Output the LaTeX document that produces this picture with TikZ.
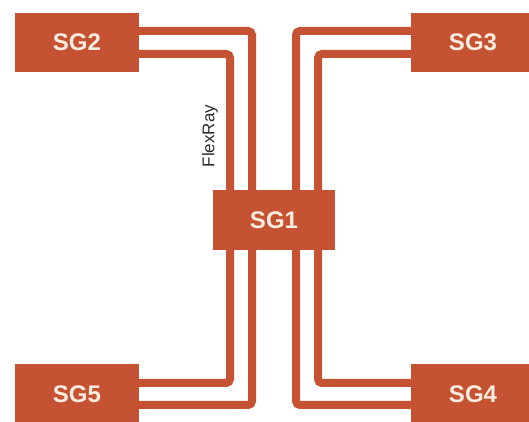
\documentclass[tikz,border=0pt]{standalone}
\usepackage{fontspec}
\setmainfont{Liberation Sans}
\usetikzlibrary{calc,backgrounds}
\definecolor{sgred}{RGB}{197,82,50}
\definecolor{sgtext}{RGB}{250,236,222}
\definecolor{lbl}{RGB}{45,45,45}
\begin{document}
\begin{tikzpicture}[x=1pt,y=1pt,
  sgbox/.style={fill=sgred,draw=none,minimum width=124pt,minimum height=59pt,inner sep=0pt,
    text=sgtext,font=\fontsize{24}{27}\selectfont\bfseries},
  wire/.style={draw=sgred,line width=8pt,rounded corners=4pt}]
\clip (0,0) rectangle (529,422);
\useasboundingbox (0,0) rectangle (529,422);
\node[sgbox] (sg2) at (77,379.5) {SG2};
\node[sgbox] (sg3) at (473,379.5) {SG3};
\node[sgbox,minimum width=122pt,minimum height=60pt] (sg1) at (274,202) {SG1};
\node[sgbox,minimum height=60pt] (sg5) at (77,28) {SG5};
\node[sgbox,minimum height=60pt] (sg4) at (473,28) {SG4};
\begin{pgfonlayer}{background}
\fill[white] (0,0) rectangle (529,422);
\draw[wire] ($(sg2.east)+(-4,11.5)$) -| ($(sg1.north)+(-22,-4)$);
\draw[wire] ($(sg2.east)+(-4,-11.5)$) -| ($(sg1.north)+(-44,-4)$);
\draw[wire] ($(sg3.west)+(4,11.5)$) -| ($(sg1.north)+(22,-4)$);
\draw[wire] ($(sg3.west)+(4,-11.5)$) -| ($(sg1.north)+(44,-4)$);
\draw[wire] ($(sg5.east)+(-4,11)$) -| ($(sg1.south)+(-44,4)$);
\draw[wire] ($(sg5.east)+(-4,-11)$) -| ($(sg1.south)+(-22,4)$);
\draw[wire] ($(sg4.west)+(4,11)$) -| ($(sg1.south)+(44,4)$);
\draw[wire] ($(sg4.west)+(4,-11)$) -| ($(sg1.south)+(22,4)$);
\end{pgfonlayer}
\node[rotate=90,text=lbl,font=\fontsize{17}{20}\selectfont,inner sep=0pt] (flex) at (210,286) {FlexRay};
\end{tikzpicture}
\end{document}
